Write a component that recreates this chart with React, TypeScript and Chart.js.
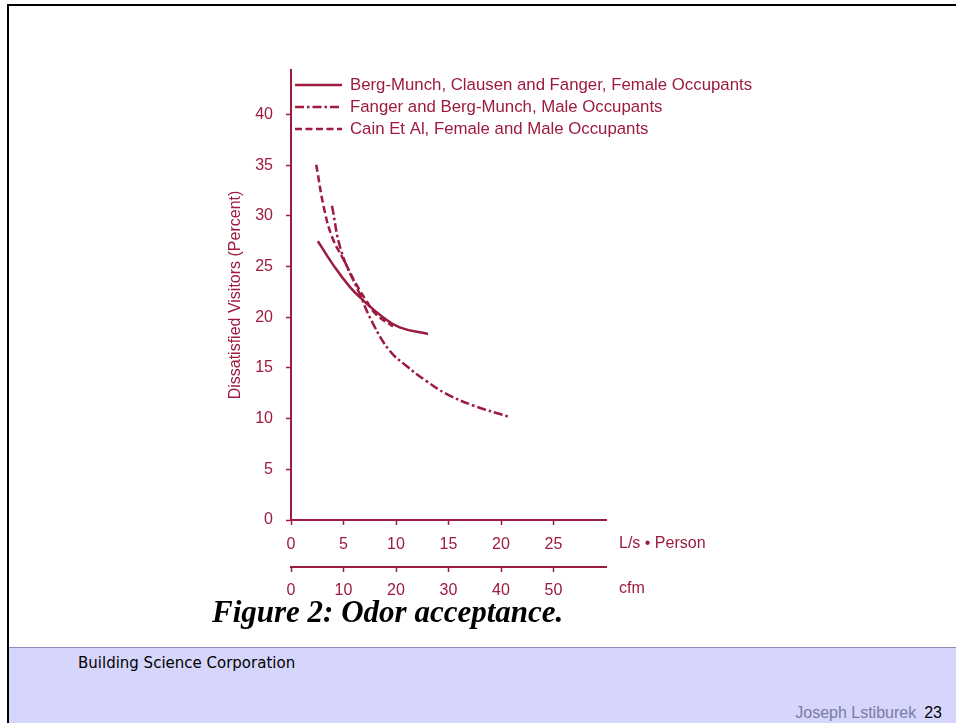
import React, { useEffect, useRef } from "react";
import { Chart, registerables } from "chart.js";

Chart.register(...registerables);

const RED = "#9c1b3e";

const seriesLabels = [
  "Berg-Munch, Clausen and Fanger, Female Occupants",
  "Fanger and Berg-Munch, Male Occupants",
  "Cain Et Al, Female and Male Occupants",
];

const bergX = [2.56, 4.0, 5.6, 6.85, 8.76, 10.35, 13.05];
const bergY = [27.5, 25.2, 23.0, 21.7, 20.0, 19.0, 18.35];

const fangerX = [3.9, 4.8, 6.5, 7.8, 9.4, 11.0, 12.9, 14.8, 17.35, 20.7];
const fangerY = [31.0, 26.5, 22.4, 19.4, 16.7, 15.2, 13.7, 12.45, 11.3, 10.2];

const cainX = [2.4, 3.2, 3.96, 4.9, 6.2, 7.2, 8.1, 9.7];
const cainY = [35.05, 30.5, 27.8, 25.9, 23.3, 21.6, 20.3, 19.1];

const yTicks = [0, 5, 10, 15, 20, 25, 30, 35, 40];
const lsTicks = [0, 5, 10, 15, 20, 25];
const cfmTicks = [0, 10, 20, 30, 40, 50];

const xUnitLabel = "L/s \u2022 Person";
const x2UnitLabel = "cfm";
const yTitle = "Dissatisfied Visitors (Percent)";

const toPts = (xs: number[], ys: number[]) => xs.map((x, i) => ({ x, y: ys[i] }));

const FAMILY = "'Liberation Sans', Arial, Helvetica, sans-serif";
const TICK_FONT = { family: FAMILY, size: 16 };

export default function App() {
  const ref = useRef<HTMLCanvasElement | null>(null);

  useEffect(() => {
    if (!ref.current) return;

    const unitPlugin = {
      id: "unitLabels",
      afterDraw(chart: any) {
        const ctx = chart.ctx;
        const sx = chart.scales.x;
        const sx2 = chart.scales.x2;
        ctx.save();
        ctx.fillStyle = RED;
        ctx.font = `${TICK_FONT.size}px ${FAMILY}`;
        ctx.textAlign = "left";
        ctx.textBaseline = "middle";
        ctx.fillText(xUnitLabel, sx.right + 13, sx.top + 24);
        ctx.fillText(x2UnitLabel, sx.right + 13, sx2.top + 22);
        ctx.restore();
      },
    };

    const legendPlugin = {
      id: "insideLegend",
      afterDatasetsDraw(chart: any) {
        const ctx = chart.ctx;
        const area = chart.chartArea;
        ctx.save();
        ctx.font = `16.8px ${FAMILY}`;
        ctx.textAlign = "left";
        ctx.textBaseline = "middle";
        chart.data.datasets.forEach((ds: any, i: number) => {
          const cy = area.top + 15 + i * 22;
          const x0 = area.left + 4;
          ctx.strokeStyle = ds.borderColor;
          ctx.lineWidth = 2.5;
          ctx.setLineDash(ds.borderDash || []);
          ctx.beginPath();
          ctx.moveTo(x0, cy);
          ctx.lineTo(x0 + 47, cy);
          ctx.stroke();
          ctx.setLineDash([]);
          ctx.fillStyle = RED;
          ctx.fillText(ds.label, x0 + 55, cy);
        });
        ctx.restore();
      },
    };

    const axisCommon = {
      border: { display: true, color: RED, width: 2 },
      grid: {
        drawOnChartArea: false,
        drawTicks: true,
        tickLength: 5,
        tickColor: RED,
        tickWidth: 1.5,
      },
    };

    const lineDs = (label: string, data: any[], dash: number[]) => ({
      label,
      data,
      borderColor: RED,
      backgroundColor: RED,
      borderWidth: 2.5,
      borderDash: dash,
      pointRadius: 0,
      tension: 0.45,
    });

    const chart = new Chart(ref.current, {
      type: "line",
      data: {
        datasets: [
          lineDs(seriesLabels[0], toPts(bergX, bergY), []),
          lineDs(seriesLabels[1], toPts(fangerX, fangerY), [9, 3, 2.5, 3]),
          lineDs(seriesLabels[2], toPts(cainX, cainY), [7, 3.5]),
        ],
      } as any,
      options: {
        animation: false,
        responsive: false,
        maintainAspectRatio: false,
        layout: { padding: { left: 200, top: 70, right: 350, bottom: 116 } },
        plugins: {
          tooltip: { enabled: false },
          legend: { display: false },
        },
        scales: {
          x: {
            type: "linear",
            position: "bottom",
            min: 0,
            max: 30,
            weight: 0,
            ...axisCommon,
            ticks: { color: RED, font: TICK_FONT, padding: 10 },
            afterBuildTicks: (s: any) => {
              s.ticks = lsTicks.map((v) => ({ value: v }));
            },
            afterFit: (s: any) => {
              s.height = 47;
            },
          },
          x2: {
            type: "linear",
            position: "bottom",
            min: 0,
            max: 60,
            weight: 1,
            ...axisCommon,
            ticks: { color: RED, font: TICK_FONT, padding: 9 },
            afterBuildTicks: (s: any) => {
              s.ticks = cfmTicks.map((v) => ({ value: v }));
            },
            afterFit: (s: any) => {
              s.height = 40;
            },
          },
          y: {
            type: "linear",
            position: "left",
            min: 0,
            max: 44.4,
            ...axisCommon,
            ticks: { color: RED, font: TICK_FONT, padding: 13 },
            title: {
              display: true,
              text: yTitle,
              color: RED,
              font: { family: FAMILY, size: 16 },
              padding: { top: 26, bottom: 0 },
            },
            afterBuildTicks: (s: any) => {
              s.ticks = yTicks.map((v) => ({ value: v }));
            },
            afterFit: (s: any) => {
              s.width = 91;
            },
          },
        },
      } as any,
      plugins: [unitPlugin, legendPlugin],
    });
    return () => chart.destroy();
  }, []);

  return (
    <div
      style={{
        position: "fixed",
        left: 0,
        top: 0,
        width: 956,
        height: 723,
        background: "#ffffff",
        overflow: "hidden",
      }}
    >
      <div
        style={{
          position: "absolute",
          left: 7,
          top: 4,
          right: 0,
          bottom: 0,
          borderTop: "2px solid #000",
          borderLeft: "2px solid #000",
        }}
      />
      <canvas
        ref={ref}
        width={956}
        height={723}
        style={{ position: "absolute", left: 0, top: 0, width: 956, height: 723 }}
      />
      <div
        style={{
          position: "absolute",
          left: 212,
          top: 594,
          fontFamily: "'Liberation Serif', 'Times New Roman', serif",
          fontWeight: "bold",
          fontStyle: "italic",
          fontSize: 31,
          color: "#000",
          whiteSpace: "nowrap",
          lineHeight: "36px",
        }}
      >
        Figure 2: Odor acceptance.
      </div>
      <div
        style={{
          position: "absolute",
          left: 9,
          top: 647,
          right: 0,
          bottom: 0,
          background: "#d6d6fc",
          borderTop: "1px solid #8a8ab4",
        }}
      >
        <div
          style={{
            position: "absolute",
            left: 69,
            top: 6,
            fontFamily: "'DejaVu Sans', Verdana, sans-serif",
            fontSize: 15,
            color: "#000",
            whiteSpace: "nowrap",
          }}
        >
          Building Science Corporation
        </div>
        <div
          style={{
            position: "absolute",
            right: 14,
            top: 56,
            fontFamily: FAMILY,
            fontSize: 16,
            color: "#7a7aa6",
            whiteSpace: "nowrap",
          }}
        >
          Joseph Lstiburek
          <span style={{ color: "#000", marginLeft: 8 }}>23</span>
        </div>
      </div>
    </div>
  );
}
